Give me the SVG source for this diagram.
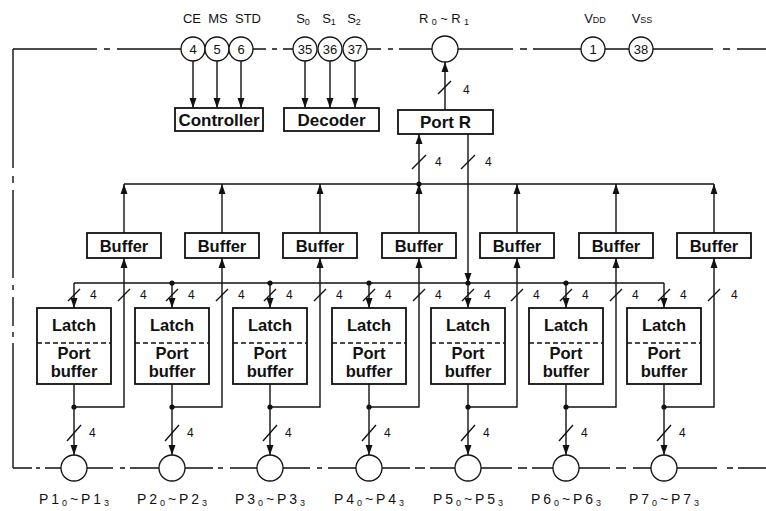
<svg xmlns="http://www.w3.org/2000/svg" width="766" height="511" viewBox="0 0 766 511">
<defs>
<marker id="arr" markerUnits="userSpaceOnUse" markerWidth="10" markerHeight="8" refX="10" refY="4" orient="auto">
<path d="M0,0.5 L10,4 L0,7.5 z" fill="#111"/>
</marker>
<style>
.ln{stroke:#111;stroke-width:1.4;fill:none}
.ar{stroke:#111;stroke-width:1.4;fill:none;marker-end:url(#arr)}
.box{fill:#fff;stroke:#111;stroke-width:1.8}
.pin{fill:#fff;stroke:#111;stroke-width:1.3}
.dot{fill:#111}
.div{stroke:#111;stroke-width:1.4;stroke-dasharray:5 3}
text{font-family:"Liberation Sans",Arial,sans-serif;fill:#111}
.bt{font-size:16.5px;font-weight:bold;text-anchor:middle}
.bb{font-size:17px;font-weight:bold;text-anchor:middle}
.lb{font-size:13px;text-anchor:middle}
.pl{font-size:14px;text-anchor:middle}
.n4{font-size:12px}
.pn{font-size:13px;text-anchor:middle}
.sub{font-size:9px}
</style>
</defs>
<rect width="766" height="511" fill="#fff"/>

<g id="connectors">
<path class="ln" d="M13,49 H97 M104,49 H110 M117,49 H181 M253,49 H266 M272,49 H277 M283,49 H293 M366,49 H381 M388,49 H393 M399,49 H432 M458,49 H513 M520,49 H527 M533,49 H581 M605,49 H629 M653,49 H713 M723,49 H730 M737,49 H766"/>
<path class="ln" d="M13,49 V168 M13,176 V183 M13,190 V278 M13,285 V290 M13,297 V326 M13,332 V337 M13,343 V468"/>
<path class="ln" d="M13,468 H32 M36,468 H40 M45,468 H61 M87,468 H113 M120,468 H125 M130,468 H159 M185,468 H213 M218,468 H223 M230,468 H257 M283,468 H310 M317,468 H322 M328,468 H356 M382,468 H410 M415,468 H425 M430,468 H455 M481,468 H512 M518,468 H527 M532,468 H553 M579,468 H610 M616,468 H626 M633,468 H651 M677,468 H717 M727,468 H733 M738,468 H766"/>
<path class="ar" d="M193,61 V108"/>
<path class="ar" d="M217,61 V108"/>
<path class="ar" d="M241,61 V108"/>
<path class="ar" d="M305,61 V108"/>
<path class="ar" d="M330,61 V108"/>
<path class="ar" d="M355,61 V108"/>
<path class="ar" d="M445,110 V62"/>
<path class="ln" d="M438,94 L451,81"/>
<path class="ar" d="M419,184 V134"/>
<path class="ar" d="M468,134 V283"/>
<path class="ln" d="M412,169 L426,155 M461,169 L475,155"/>
<path class="ln" d="M124,184 H714"/>
<circle class="dot" cx="419" cy="184" r="2.6"/>
<path class="ln" d="M74,283 H664"/>
<circle class="dot" cx="172" cy="283" r="2.6"/>
<circle class="dot" cx="270" cy="283" r="2.6"/>
<circle class="dot" cx="369" cy="283" r="2.6"/>
<circle class="dot" cx="468" cy="283" r="2.6"/>
<circle class="dot" cx="566" cy="283" r="2.6"/>
<path class="ar" d="M124,233 V184"/>
<path class="ar" d="M222,233 V184"/>
<path class="ar" d="M320,233 V184"/>
<path class="ar" d="M419,233 V184"/>
<path class="ar" d="M517,233 V184"/>
<path class="ar" d="M616,233 V184"/>
<path class="ar" d="M714,233 V184"/>
<path class="ar" d="M74,283 V308"/>
<path class="ar" d="M172,283 V308"/>
<path class="ar" d="M270,283 V308"/>
<path class="ar" d="M369,283 V308"/>
<path class="ln" d="M468,283 V293"/>
<path class="ar" d="M468,292 V308"/>
<path class="ar" d="M566,283 V308"/>
<path class="ar" d="M664,283 V308"/>
<path class="ar" d="M74,384 V455"/>
<path class="ar" d="M172,384 V455"/>
<path class="ar" d="M270,384 V455"/>
<path class="ar" d="M369,384 V455"/>
<path class="ar" d="M468,384 V455"/>
<path class="ar" d="M566,384 V455"/>
<path class="ar" d="M664,384 V455"/>
<path class="ar" d="M74,407 H124 V258"/>
<path class="ar" d="M172,407 H222 V258"/>
<path class="ar" d="M270,407 H320 V258"/>
<path class="ar" d="M369,407 H419 V258"/>
<path class="ar" d="M468,407 H517 V258"/>
<path class="ar" d="M566,407 H616 V258"/>
<path class="ar" d="M664,407 H714 V258"/>
<circle class="dot" cx="74" cy="407" r="2.6"/>
<circle class="dot" cx="172" cy="407" r="2.6"/>
<circle class="dot" cx="270" cy="407" r="2.6"/>
<circle class="dot" cx="369" cy="407" r="2.6"/>
<circle class="dot" cx="468" cy="407" r="2.6"/>
<circle class="dot" cx="566" cy="407" r="2.6"/>
<circle class="dot" cx="664" cy="407" r="2.6"/>
<path class="ln" d="M68,301 L80,289 M118,301 L130,289 M166,301 L178,289 M216,301 L228,289 M264,301 L276,289 M314,301 L326,289 M363,301 L375,289 M413,301 L425,289 M462,301 L474,289 M511,301 L523,289 M560,301 L572,289 M610,301 L622,289 M658,301 L670,289 M708,301 L720,289"/>
<path class="ln" d="M67,441 L81,425 M165,441 L179,425 M263,441 L277,425 M362,441 L376,425 M461,441 L475,425 M559,441 L573,425 M657,441 L671,425"/>
</g>

<g id="width-labels">
<text class="n4" x="463" y="94">4</text>
<text class="n4" x="435" y="166">4</text>
<text class="n4" x="485" y="166">4</text>
<text class="n4" x="90" y="299">4</text>
<text class="n4" x="140" y="299">4</text>
<text class="n4" x="188" y="299">4</text>
<text class="n4" x="238" y="299">4</text>
<text class="n4" x="286" y="299">4</text>
<text class="n4" x="336" y="299">4</text>
<text class="n4" x="385" y="299">4</text>
<text class="n4" x="435" y="299">4</text>
<text class="n4" x="484" y="299">4</text>
<text class="n4" x="533" y="299">4</text>
<text class="n4" x="582" y="299">4</text>
<text class="n4" x="632" y="299">4</text>
<text class="n4" x="680" y="299">4</text>
<text class="n4" x="731" y="299">4</text>
<text class="n4" x="89" y="437">4</text>
<text class="n4" x="187" y="437">4</text>
<text class="n4" x="285" y="437">4</text>
<text class="n4" x="384" y="437">4</text>
<text class="n4" x="483" y="437">4</text>
<text class="n4" x="581" y="437">4</text>
<text class="n4" x="679" y="437">4</text>
</g>

<g id="pin-labels">
<text class="lb" x="192" y="23">CE</text>
<text class="lb" x="218" y="23">MS</text>
<text class="lb" x="248" y="23">STD</text>
<text class="lb" x="303" y="23">S<tspan class="sub" dy="2">0</tspan></text>
<text class="lb" x="329" y="23">S<tspan class="sub" dy="2">1</tspan></text>
<text class="lb" x="354" y="23">S<tspan class="sub" dy="2">2</tspan></text>
<text class="lb" x="444" y="23" textLength="50" lengthAdjust="spacing">R<tspan class="sub" dy="2">0</tspan><tspan dy="-2">~R</tspan><tspan class="sub" dy="2">1</tspan></text>
<text class="lb" x="595" y="23">V<tspan class="sub">DD</tspan></text>
<text class="lb" x="642" y="23">V<tspan class="sub">SS</tspan></text>
</g>

<g id="pin-4"><circle class="pin" cx="193" cy="49" r="12"/><text class="pn" x="193" y="54">4</text></g>
<g id="pin-5"><circle class="pin" cx="217" cy="49" r="12"/><text class="pn" x="217" y="54">5</text></g>
<g id="pin-6"><circle class="pin" cx="241" cy="49" r="12"/><text class="pn" x="241" y="54">6</text></g>
<g id="pin-35"><circle class="pin" cx="305" cy="49" r="12"/><text class="pn" x="305" y="54">35</text></g>
<g id="pin-36"><circle class="pin" cx="330" cy="49" r="12"/><text class="pn" x="330" y="54">36</text></g>
<g id="pin-37"><circle class="pin" cx="355" cy="49" r="12"/><text class="pn" x="355" y="54">37</text></g>
<g id="pin-R"><circle class="pin" cx="445" cy="49" r="13"/></g>
<g id="pin-1"><circle class="pin" cx="593" cy="49" r="12"/><text class="pn" x="593" y="54">1</text></g>
<g id="pin-38"><circle class="pin" cx="641" cy="49" r="12"/><text class="pn" x="641" y="54">38</text></g>

<g id="controller"><rect class="box" x="175" y="108" width="88" height="23"/><text class="bb" x="219" y="125.5">Controller</text></g>
<g id="decoder"><rect class="box" x="284" y="108" width="95" height="23"/><text class="bb" x="331.5" y="125.5">Decoder</text></g>
<g id="port-r"><rect class="box" x="398" y="110" width="95" height="24"/><text class="bb" x="445.5" y="128">Port R</text></g>

<g id="buffer-1"><rect class="box" x="87" y="233" width="74" height="25"/><text class="bt" x="124" y="251.5">Buffer</text></g>
<g id="buffer-2"><rect class="box" x="185" y="233" width="74" height="25"/><text class="bt" x="222" y="251.5">Buffer</text></g>
<g id="buffer-3"><rect class="box" x="283" y="233" width="74" height="25"/><text class="bt" x="320" y="251.5">Buffer</text></g>
<g id="buffer-4"><rect class="box" x="382" y="233" width="74" height="25"/><text class="bt" x="419" y="251.5">Buffer</text></g>
<g id="buffer-5"><rect class="box" x="480" y="233" width="74" height="25"/><text class="bt" x="517" y="251.5">Buffer</text></g>
<g id="buffer-6"><rect class="box" x="579" y="233" width="74" height="25"/><text class="bt" x="616" y="251.5">Buffer</text></g>
<g id="buffer-7"><rect class="box" x="677" y="233" width="74" height="25"/><text class="bt" x="714" y="251.5">Buffer</text></g>

<g id="latch-1"><rect class="box" x="37" y="308" width="74" height="76"/><line class="div" x1="37" y1="343" x2="111" y2="343"/><text class="bt" x="74" y="331">Latch</text><text class="bt" x="74" y="359">Port</text><text class="bt" x="74" y="377">buffer</text></g>
<g id="latch-2"><rect class="box" x="135" y="308" width="74" height="76"/><line class="div" x1="135" y1="343" x2="209" y2="343"/><text class="bt" x="172" y="331">Latch</text><text class="bt" x="172" y="359">Port</text><text class="bt" x="172" y="377">buffer</text></g>
<g id="latch-3"><rect class="box" x="233" y="308" width="74" height="76"/><line class="div" x1="233" y1="343" x2="307" y2="343"/><text class="bt" x="270" y="331">Latch</text><text class="bt" x="270" y="359">Port</text><text class="bt" x="270" y="377">buffer</text></g>
<g id="latch-4"><rect class="box" x="332" y="308" width="74" height="76"/><line class="div" x1="332" y1="343" x2="406" y2="343"/><text class="bt" x="369" y="331">Latch</text><text class="bt" x="369" y="359">Port</text><text class="bt" x="369" y="377">buffer</text></g>
<g id="latch-5"><rect class="box" x="431" y="308" width="74" height="76"/><line class="div" x1="431" y1="343" x2="505" y2="343"/><text class="bt" x="468" y="331">Latch</text><text class="bt" x="468" y="359">Port</text><text class="bt" x="468" y="377">buffer</text></g>
<g id="latch-6"><rect class="box" x="529" y="308" width="74" height="76"/><line class="div" x1="529" y1="343" x2="603" y2="343"/><text class="bt" x="566" y="331">Latch</text><text class="bt" x="566" y="359">Port</text><text class="bt" x="566" y="377">buffer</text></g>
<g id="latch-7"><rect class="box" x="627" y="308" width="74" height="76"/><line class="div" x1="627" y1="343" x2="701" y2="343"/><text class="bt" x="664" y="331">Latch</text><text class="bt" x="664" y="359">Port</text><text class="bt" x="664" y="377">buffer</text></g>

<g id="port-pins">
<circle class="pin" cx="74" cy="468" r="13"/>
<circle class="pin" cx="172" cy="468" r="13"/>
<circle class="pin" cx="270" cy="468" r="13"/>
<circle class="pin" cx="369" cy="468" r="13"/>
<circle class="pin" cx="468" cy="468" r="13"/>
<circle class="pin" cx="566" cy="468" r="13"/>
<circle class="pin" cx="664" cy="468" r="13"/>
<text class="pl" x="74" y="504" textLength="70" lengthAdjust="spacing">P1<tspan class="sub" dy="2">0</tspan><tspan dy="-2">~P1</tspan><tspan class="sub" dy="2">3</tspan></text>
<text class="pl" x="172" y="504" textLength="70" lengthAdjust="spacing">P2<tspan class="sub" dy="2">0</tspan><tspan dy="-2">~P2</tspan><tspan class="sub" dy="2">3</tspan></text>
<text class="pl" x="270" y="504" textLength="70" lengthAdjust="spacing">P3<tspan class="sub" dy="2">0</tspan><tspan dy="-2">~P3</tspan><tspan class="sub" dy="2">3</tspan></text>
<text class="pl" x="369" y="504" textLength="70" lengthAdjust="spacing">P4<tspan class="sub" dy="2">0</tspan><tspan dy="-2">~P4</tspan><tspan class="sub" dy="2">3</tspan></text>
<text class="pl" x="468" y="504" textLength="70" lengthAdjust="spacing">P5<tspan class="sub" dy="2">0</tspan><tspan dy="-2">~P5</tspan><tspan class="sub" dy="2">3</tspan></text>
<text class="pl" x="566" y="504" textLength="70" lengthAdjust="spacing">P6<tspan class="sub" dy="2">0</tspan><tspan dy="-2">~P6</tspan><tspan class="sub" dy="2">3</tspan></text>
<text class="pl" x="664" y="504" textLength="70" lengthAdjust="spacing">P7<tspan class="sub" dy="2">0</tspan><tspan dy="-2">~P7</tspan><tspan class="sub" dy="2">3</tspan></text>
</g>
</svg>
